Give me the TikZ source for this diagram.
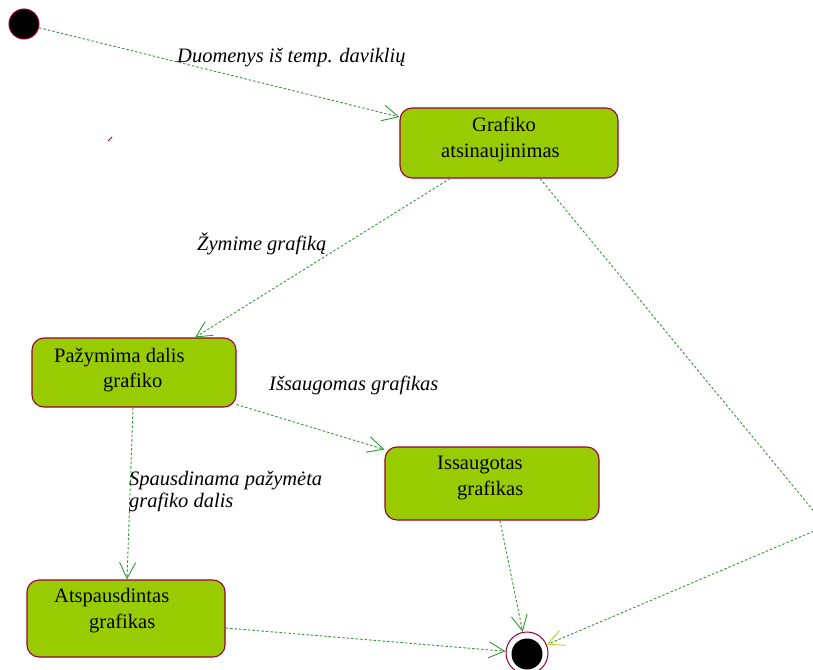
\documentclass[tikz,border=0pt]{standalone}
\usepackage{fontspec}
\setmainfont{Liberation Serif}
\usetikzlibrary{arrows.meta}
\definecolor{boxfill}{HTML}{99CC00}
\definecolor{boxline}{HTML}{990033}
\definecolor{flowgreen}{HTML}{2E9A2E}
\definecolor{tipyellow}{HTML}{BBCC22}
\begin{document}
\begin{tikzpicture}[x=1pt,y=-1pt,
  state/.style={draw=boxline, line width=1.1pt, fill=boxfill, rounded corners=12pt, inner sep=0pt},
  txt/.style={font=\fontsize{20.5}{24}\selectfont, inner sep=0pt, anchor=base west},
  lbl/.style={font=\fontsize{20.5}{24}\selectfont\itshape, inner sep=0pt, anchor=base west},
  flowline/.style={draw=flowgreen, line width=0.9pt, dash pattern=on 2.5pt off 2pt},
  flowarrow/.style={flowline, -{Straight Barb[length=16pt,width=16pt,line width=0.9pt]}},
]
\useasboundingbox (0,0) rectangle (813,669);
\clip (0,0) rectangle (813,669);

% initial and final pseudo-states
\node[circle, draw=boxline, line width=1pt, fill=black, minimum size=30pt, inner sep=0pt] (st) at (24,24) {};
\node[circle, draw=boxline, line width=1pt, fill=white, minimum size=42pt, inner sep=0pt] (e) at (527,653) {};
\node[circle, fill=black, minimum size=31pt, inner sep=0pt] (ein) at (527,654) {};

% states
\node[state, minimum width=218pt, minimum height=70pt] (g) at (509,143) {};
\node[state, minimum width=204pt, minimum height=69pt] (p) at (134,372.5) {};
\node[state, minimum width=214pt, minimum height=73pt] (s) at (492,483.5) {};
\node[state, minimum width=198pt, minimum height=77pt] (a) at (126,618.5) {};

% state names
\node[txt] (g1) at (472,131) {Grafiko};
\node[txt] (g2) at (441,157) {atsinaujinimas};
\node[txt] (p1) at (54,362) {Pažymima dalis};
\node[txt] (p2) at (103,387) {grafiko};
\node[txt] (s1) at (437,469) {Issaugotas};
\node[txt] (s2) at (457,495) {grafikas};
\node[txt] (a1) at (54,602) {Atspausdintas};
\node[txt] (a2) at (89,628) {grafikas};

% transitions
\draw[flowarrow] (st) -- ([yshift=26pt]g.west);
\draw[flowarrow] ([xshift=-59pt]g.south) -- ([xshift=61pt]p.north);
\coordinate (turn) at (826,526);
\draw[flowline, -{Straight Barb[length=16pt,width=16pt,line width=0.9pt,color=tipyellow]}]
  ([xshift=31pt]g.south) -- (turn) -- (e);
\draw[flowarrow] ([yshift=-32pt]p.east) -- ([yshift=34pt]s.west);
\draw[flowarrow] ([xshift=-1pt]p.south) -- ([xshift=1pt]a.north);
\draw[flowarrow] ([xshift=8pt]s.south) -- (e);
\draw[flowarrow] ([yshift=-9.5pt]a.east) -- (e);

% transition labels
\node[lbl] (l1) at (177,63) {Duomenys iš temp. daviklių};
\node[lbl] (l2) at (197,250) {Žymime grafiką};
\node[lbl] (l3) at (269,390) {Išsaugomas grafikas};
\node[lbl] (l4) at (129,485) {Spausdinama pažymėta};
\node[lbl] (l5) at (129,507) {grafiko dalis};

% stray pen mark
\draw[boxline, line width=1pt] (108,141) -- (112,137);
\end{tikzpicture}
\end{document}
